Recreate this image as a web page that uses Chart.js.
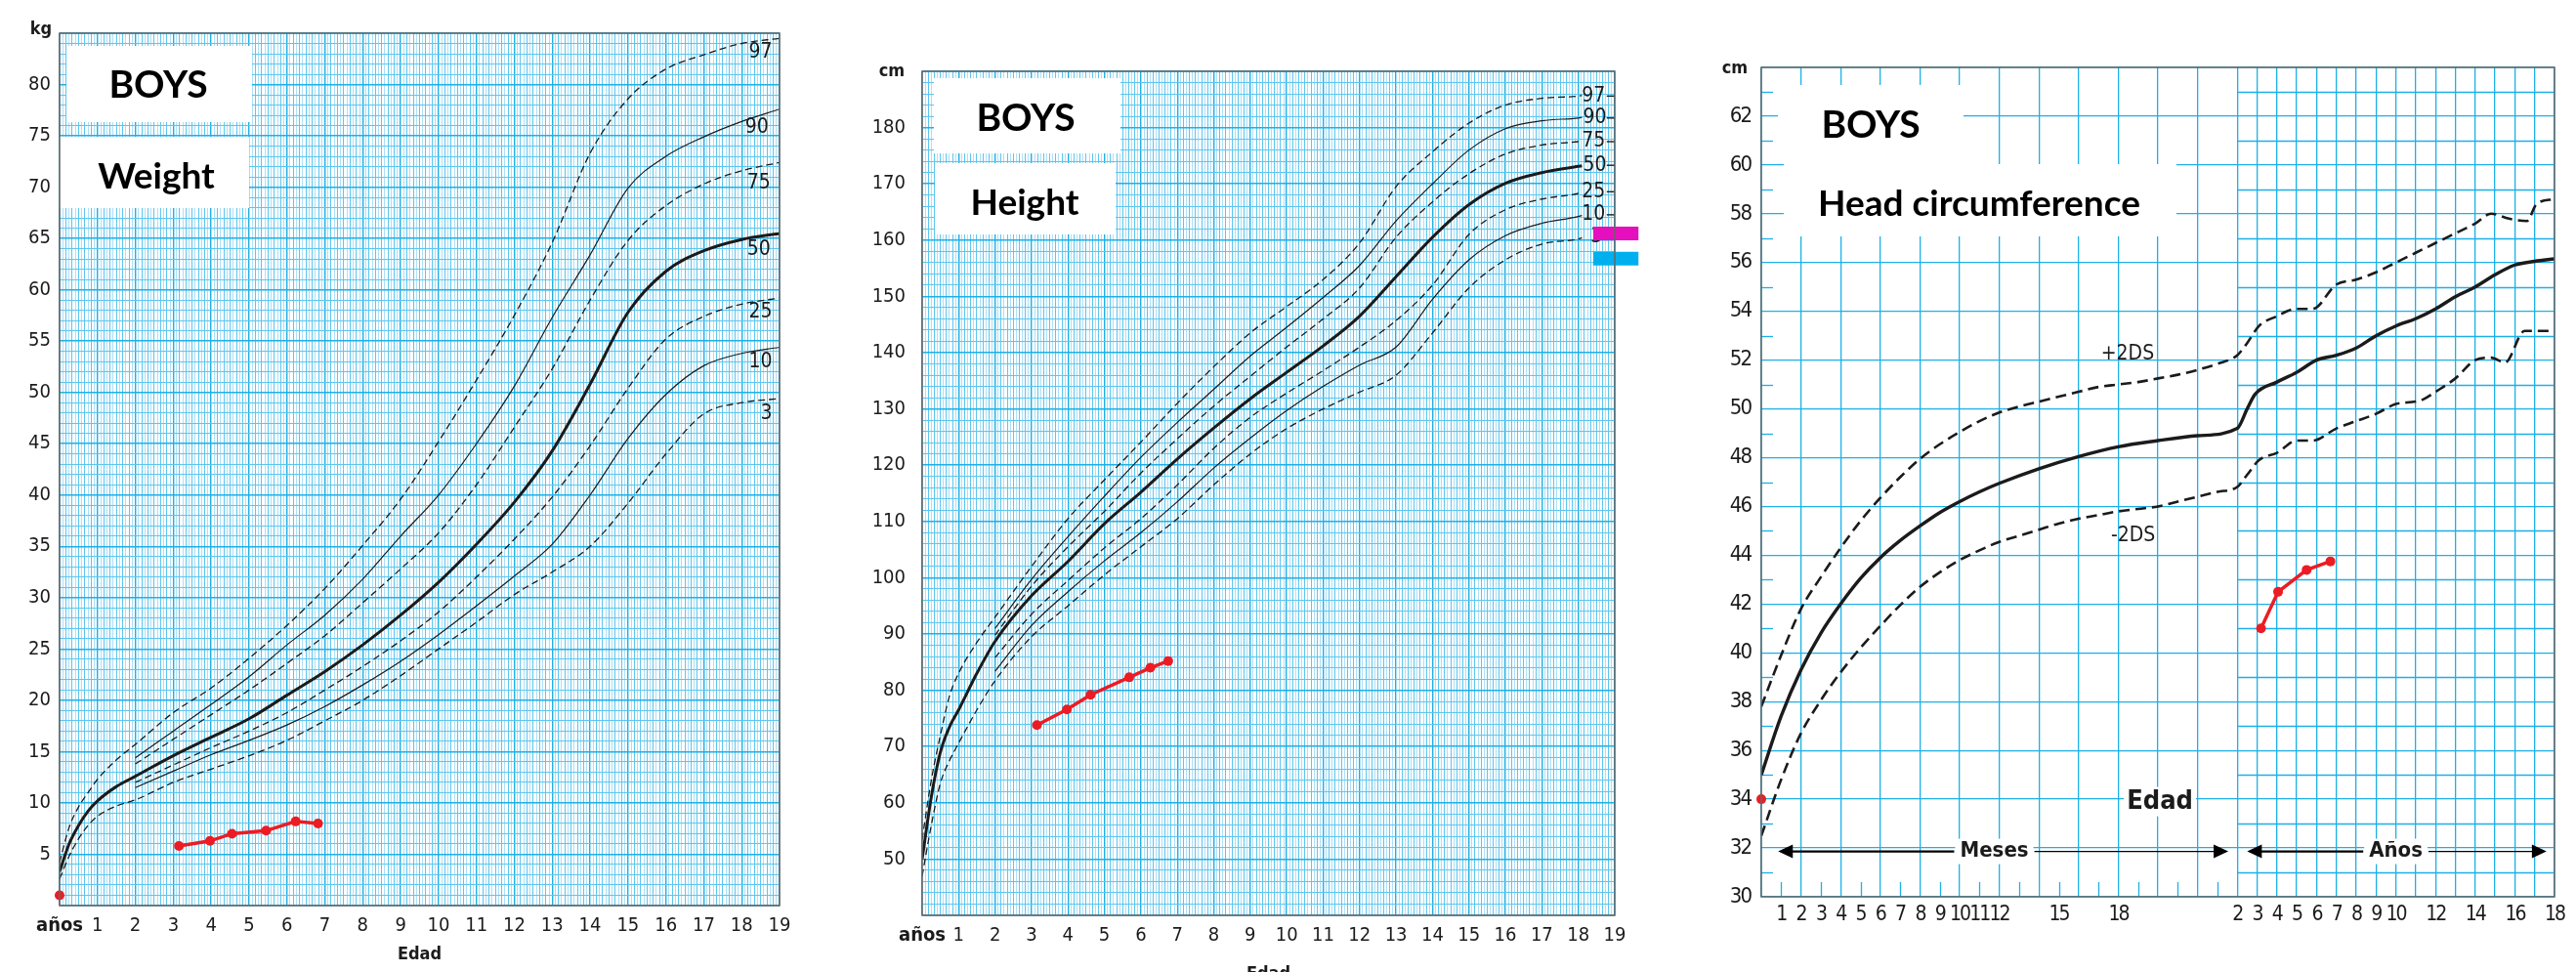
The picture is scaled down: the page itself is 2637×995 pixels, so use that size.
<!DOCTYPE html>
<html lang="es">
<head>
<meta charset="utf-8">
<title>Growth charts - boys</title>
<script src="https://cdn.jsdelivr.net/npm/chart.js@4.4.1/dist/chart.umd.min.js"></script>
<style>
  html, body { margin: 0; padding: 0; background: #fff; width: 2637px; height: 995px; overflow: hidden; }
  canvas { position: absolute; top: 0; }
</style>
</head>
<body>
<canvas id="weightChart" width="830" height="995" style="left:0"></canvas>
<canvas id="heightChart" width="830" height="1010" style="left:870px"></canvas>
<canvas id="headChart" width="917" height="995" style="left:1720px"></canvas>
<script>
(function () {
  "use strict";

  // ages in years (0-2 only 3 curves, the others start at 2)
  const ageFull = [0, 0.25, 0.5, 0.75, 1, 1.5, 2, 3, 4, 5, 6, 7, 8, 9, 10, 11, 12, 13, 14, 15, 16, 17, 18, 19];
  const ageChild = [2, 3, 4, 5, 6, 7, 8, 9, 10, 11, 12, 13, 14, 15, 16, 17, 18, 19];

  // weight percentiles (kg)
  const w97 = [4.2, 7.6, 9.6, 11.0, 12.3, 14.2, 15.7, 18.8, 21.2, 24.1, 27.3, 30.9, 35.1, 39.6, 45.2, 51.2, 57.5, 64.6, 73.3, 78.6, 81.5, 82.9, 84.0, 84.5];
  const w90 = [14.4, 17.0, 19.6, 22.3, 25.4, 28.3, 31.8, 36.0, 40.0, 45.0, 50.6, 57.3, 63.4, 69.9, 73.0, 74.9, 76.4, 77.6];
  const w75 = [13.8, 16.2, 18.6, 21.0, 23.6, 26.3, 29.5, 32.8, 36.3, 41.0, 46.6, 52.3, 59.0, 64.8, 68.2, 70.3, 71.6, 72.4];
  const w50 = [3.3, 6.0, 7.8, 9.2, 10.2, 11.6, 12.6, 14.6, 16.4, 18.2, 20.5, 22.8, 25.4, 28.3, 31.5, 35.2, 39.3, 44.3, 50.8, 57.8, 61.8, 63.8, 64.9, 65.5];
  const w25 = [12.0, 13.7, 15.4, 17.0, 18.8, 21.0, 23.3, 25.8, 28.6, 32.0, 35.7, 39.8, 44.8, 50.4, 55.2, 57.4, 58.6, 59.2];
  const w10 = [11.5, 13.1, 14.7, 16.1, 17.6, 19.4, 21.5, 23.8, 26.4, 29.2, 32.1, 35.2, 40.0, 45.5, 49.8, 52.6, 53.8, 54.4];
  const w3 = [2.6, 4.8, 6.5, 7.8, 8.7, 9.7, 10.3, 12.0, 13.3, 14.6, 16.1, 18.0, 20.0, 22.4, 25.0, 27.6, 30.3, 32.5, 35.0, 39.2, 44.0, 47.9, 49.0, 49.4];

  // patient weight
  const weightBirthAge = [0];
  const weightBirth = [1.0];
  const weightVisitAge = [3.15, 3.97, 4.55, 5.45, 6.23, 6.82];
  const weightVisit = [5.8, 6.3, 7.0, 7.3, 8.2, 8.0];

  // height percentiles (cm), curves stop where the labels start
  const hAgeFull = [0, 0.25, 0.5, 0.75, 1, 1.5, 2, 3, 4, 5, 6, 7, 8, 9, 10, 11, 12, 13, 14, 15, 16, 17, 18, 18.1];
  const hAgeChild = [2, 3, 4, 5, 6, 7, 8, 9, 10, 11, 12, 13, 14, 15, 16, 17, 18, 18.1];
  const h97 = [53.5, 64.0, 72.0, 79.0, 83.0, 88.5, 93.0, 102.0, 110.5, 117.4, 124.1, 131.0, 137.5, 143.5, 148.2, 153.0, 159.5, 169.5, 175.7, 180.8, 184.0, 185.2, 185.6, 185.7];
  const h90 = [91.0, 99.7, 107.3, 114.5, 121.4, 127.6, 133.5, 139.4, 144.5, 149.8, 155.5, 163.4, 170.0, 176.0, 179.8, 181.2, 181.7, 181.8];
  const h75 = [89.8, 98.5, 105.5, 111.8, 118.6, 124.7, 130.5, 135.8, 141.0, 146.0, 151.5, 160.5, 166.8, 171.8, 175.3, 176.9, 177.5, 177.6];
  const h50 = [50.0, 61.0, 69.0, 73.5, 76.5, 83.0, 88.7, 96.8, 102.9, 109.6, 115.2, 121.1, 126.6, 131.8, 136.5, 141.2, 146.5, 153.5, 160.5, 166.3, 170.1, 172.0, 173.1, 173.2];
  const h25 = [85.8, 93.5, 99.5, 105.3, 110.5, 116.5, 123.0, 128.5, 132.8, 136.8, 141.0, 145.7, 152.0, 161.0, 165.4, 167.3, 168.3, 168.5];
  const h10 = [83.4, 91.5, 97.5, 103.0, 108.0, 113.5, 119.5, 124.8, 129.7, 134.0, 137.8, 141.0, 149.5, 156.5, 160.8, 163.0, 164.2, 164.4];
  const h3 = [47.0, 56.0, 63.5, 67.5, 70.6, 76.5, 81.7, 89.5, 95.0, 100.5, 105.5, 110.5, 116.5, 122.0, 126.5, 130.0, 133.0, 136.0, 143.5, 151.5, 156.5, 159.3, 160.2, 160.4];

  // patient height + parents' target marks
  const heightVisitAge = [3.15, 3.97, 4.62, 5.68, 6.26, 6.75];
  const heightVisit = [73.8, 76.6, 79.2, 82.3, 84.0, 85.2];
  const targetSpan = [18.41, 19.65];
  const motherTarget = 161.2;
  const fatherTarget = 156.7;

  // head circumference (cm); axis value 0-24 = months, 24-40 = years 2-18
  const medAge = [0, 1, 2, 3, 4, 5, 6, 7, 8, 9, 10, 11, 12, 14, 16, 18, 20, 22, 24, 24.5, 24.9, 26, 27, 28, 29, 30, 31, 32, 33, 34, 35, 36, 37, 38, 39, 40];
  const headMedian = [35.0, 37.4, 39.3, 40.8, 42.0, 43.05, 43.9, 44.6, 45.2, 45.75, 46.2, 46.6, 46.95, 47.55, 48.05, 48.45, 48.7, 48.9, 49.2, 50.0, 50.6, 51.1, 51.5, 52.0, 52.2, 52.5, 53.0, 53.4, 53.7, 54.1, 54.6, 55.0, 55.5, 55.9, 56.05, 56.15];
  const upAge = [0, 1, 2, 3, 4, 5, 6, 7, 8, 9, 10, 11, 12, 13, 14, 15, 16, 17, 18, 19, 20, 21, 22, 23, 24, 24.5, 25.1, 26, 27, 27.8, 29, 30, 31, 32, 33, 34, 35, 36, 36.8, 37.7, 38.6, 39.1, 40];
  const headPlus2 = [37.8, 39.9, 41.8, 43.1, 44.3, 45.4, 46.35, 47.2, 47.95, 48.55, 49.05, 49.5, 49.85, 50.1, 50.3, 50.5, 50.7, 50.9, 51.0, 51.1, 51.25, 51.4, 51.6, 51.85, 52.2, 52.7, 53.4, 53.8, 54.1, 54.1, 55.1, 55.3, 55.6, 56.0, 56.4, 56.8, 57.2, 57.6, 58.0, 57.8, 57.7, 58.4, 58.6];
  const loAge = [0, 1, 2, 3, 4, 5, 6, 7, 8, 9, 10, 11, 12, 13, 14, 15, 16, 17, 18, 19, 20, 21, 22, 23, 24, 24.5, 25.1, 26, 27, 27.8, 29, 30, 31, 32, 33, 33.4, 34, 35, 36, 36.8, 37.5, 38.5, 40];
  const headMinus2 = [32.5, 34.8, 36.7, 38.05, 39.2, 40.2, 41.1, 41.95, 42.7, 43.3, 43.8, 44.2, 44.55, 44.8, 45.05, 45.3, 45.5, 45.65, 45.8, 45.9, 46.0, 46.2, 46.4, 46.6, 46.8, 47.3, 47.9, 48.2, 48.7, 48.7, 49.2, 49.5, 49.8, 50.2, 50.3, 50.4, 50.7, 51.25, 52.0, 52.1, 51.9, 53.2, 53.2];
  const headBirthAge = [0];
  const headBirth = [34.0];
  const headVisitAge = [25.2, 26.06, 27.5, 28.7];
  const headVisit = [41.0, 42.5, 43.4, 43.75];

  // head x tick labels
  const headTickPos = [1, 2, 3, 4, 5, 6, 7, 8, 9, 10, 11, 12, 15, 18, 24, 25, 26, 27, 28, 29, 30, 31, 32, 34, 36, 38, 40];
  const headTickText = ["1", "2", "3", "4", "5", "6", "7", "8", "9", "10", "11", "12", "15", "18", "2", "3", "4", "5", "6", "7", "8", "9", "10", "12", "14", "16", "18"];

  const BLUE = "#1eb0e6";
  const BLUE_MID = "#5cc6ee";
  const BLUE_LIGHT = "#aee0f6";
  const INK = "#1b1b1b";
  const RED = "#ec1c24";
  const TITLE = "Lato, 'Open Sans', sans-serif";
  const CLEAR = "rgba(0,0,0,0)";

  // narrow face for the printed numbers, first one that is really installed
  function pickFont(list) {
    const c = document.createElement("canvas").getContext("2d");
    const probe = "años 0123456789 Edad";
    c.font = "40px monospace";
    const base = c.measureText(probe).width;
    for (const f of list) {
      c.font = "40px '" + f + "', monospace";
      if (Math.abs(c.measureText(probe).width - base) > 0.5) return "'" + f + "', sans-serif";
    }
    return "sans-serif";
  }
  const NARROW = pickFont(["Liberation Sans Narrow", "DejaVu Sans Condensed", "Roboto"]);

  function range(a, b, step) {
    const out = [];
    for (let v = a; v <= b + 1e-9; v += step) out.push(Math.round(v * 1000) / 1000);
    return out;
  }
  const monthSteps = Array.from({ length: 19 * 12 + 1 }, (_, k) => k / 12);
  const isYear = v => Math.abs(v - Math.round(v)) < 1e-6;

  function setTicks(values) {
    return function (scale) { scale.ticks = values.map(v => ({ value: v })); };
  }
  function fixWidth(w) { return function (s) { s.width = w; }; }
  function fixHeight(h) { return function (s) { s.height = h; }; }
  function pts(xs, ys) { return ys.map((y, i) => ({ x: xs[i], y: y })); }

  const THIN = { borderWidth: 1.2 };
  const DASH = { borderWidth: 1.3, borderDash: [7, 4] };
  const BOLD = { borderWidth: 3 };

  function curve(xs, ys, style) {
    return Object.assign({
      data: pts(xs, ys), borderColor: INK, pointRadius: 0, fill: false,
      cubicInterpolationMode: "monotone"
    }, style);
  }
  function patient(xs, ys, line) {
    return {
      data: pts(xs, ys), borderColor: RED, backgroundColor: RED, borderWidth: 3.5,
      pointRadius: 5, pointBorderWidth: 0, showLine: line, clip: false, tension: 0
    };
  }
  function targetBar(value, color) {
    return {
      data: pts(targetSpan, [value, value]), borderColor: color, borderWidth: 14,
      borderCapStyle: "butt", pointRadius: 0, clip: false, tension: 0
    };
  }

  function baseOptions(extra) {
    return Object.assign({
      responsive: false, animation: false, events: [], devicePixelRatio: 1,
      plugins: { legend: { display: false }, tooltip: { enabled: false } }
    }, extra);
  }

  function monthColor(c) {
    if (!c.tick) return BLUE;
    const m = Math.round(c.tick.value * 12);
    return m % 12 === 0 ? BLUE : (m % 2 === 0 ? BLUE_MID : BLUE_LIGHT);
  }

  function yearAxis(axisHeight, titlePad) {
    return {
      type: "linear", min: 0, max: 19,
      afterBuildTicks: setTicks(monthSteps),
      afterFit: fixHeight(axisHeight),
      grid: { drawTicks: false, color: monthColor, lineWidth: c => (c.tick && isYear(c.tick.value) ? 1.4 : 1) },
      border: { display: false },
      ticks: {
        autoSkip: false, maxRotation: 0, padding: 9, color: INK,
        font: c => ({ family: NARROW, size: 20, weight: c.tick && c.tick.value === 0 ? "bold" : "normal" }),
        callback: v => (isYear(v) ? (Math.round(v) === 0 ? "años" : String(Math.round(v))) : "")
      },
      title: {
        display: true, text: "Edad", color: INK,
        font: { family: NARROW, size: 18, weight: "bold" },
        padding: { top: 0, bottom: titlePad }
      }
    };
  }

  // ---- drawing helpers for the printed-sheet decorations ----
  function whiteBox(ctx, x1, y1, x2, y2) {
    ctx.fillStyle = "#fff";
    ctx.fillRect(x1, y1, x2 - x1, y2 - y1);
  }
  function caption(ctx, s, cx, capMid, size) {
    ctx.font = "bold " + size + "px " + TITLE;
    ctx.fillStyle = "#000";
    ctx.textAlign = "center";
    ctx.textBaseline = "alphabetic";
    ctx.fillText(s, cx, capMid + size * 0.36);
  }
  function label(ctx, s, x, y, font, align) {
    ctx.font = font;
    ctx.fillStyle = INK;
    ctx.textAlign = align || "center";
    ctx.textBaseline = "middle";
    ctx.fillText(s, x, y);
  }
  function frame(chart) {
    const { ctx, chartArea: a } = chart;
    ctx.save();
    ctx.strokeStyle = "#666";
    ctx.lineWidth = 1.5;
    ctx.strokeRect(a.left, a.top, a.right - a.left, a.bottom - a.top);
    ctx.restore();
  }
  function seg(ctx, x1, y1, x2, y2) {
    ctx.beginPath(); ctx.moveTo(x1, y1); ctx.lineTo(x2, y2); ctx.stroke();
  }
  // the printed tick numbers are set tight
  function tightTicks(px) {
    return {
      id: "tightTicks",
      beforeDraw(chart) { chart.ctx.letterSpacing = px; },
      beforeDatasetsDraw(chart) { chart.ctx.letterSpacing = "0px"; }
    };
  }

  const WEIGHT_TAGS = [["97", 18.5, 83.1], ["90", 18.4, 75.8], ["75", 18.45, 70.4], ["50", 18.45, 63.9],
                       ["25", 18.5, 57.8], ["10", 18.5, 53.0], ["3", 18.65, 47.9]];
  const HEIGHT_TAGS = [["97", 18.42, 185.6], ["90", 18.45, 181.7], ["75", 18.42, 177.5], ["50", 18.45, 173.3],
                       ["25", 18.42, 168.6], ["10", 18.42, 164.5], ["3", 18.5, 160.5]];

  const weightOverlay = {
    id: "weightOverlay",
    beforeDatasetsDraw(chart) {
      const { ctx, scales: { x, y } } = chart;
      ctx.save();
      whiteBox(ctx, 68, 47, 258, 125);
      whiteBox(ctx, 61, 140, 255, 213);
      caption(ctx, "BOYS", 162, 86, 39);
      caption(ctx, "Weight", 160, 180, 37);
      WEIGHT_TAGS.forEach(t => label(ctx, t[0], x.getPixelForValue(t[1]), y.getPixelForValue(t[2]), "21px " + NARROW));
      label(ctx, "kg", 42, 30, "bold 18px " + NARROW);
      ctx.restore();
    },
    afterDatasetsDraw: frame
  };

  const heightOverlay = {
    id: "heightOverlay",
    beforeDatasetsDraw(chart) {
      const { ctx, scales: { x, y } } = chart;
      ctx.save();
      whiteBox(ctx, 86, 80, 277, 157);
      whiteBox(ctx, 87, 167, 272, 240);
      caption(ctx, "BOYS", 180, 120, 39);
      caption(ctx, "Height", 179, 207, 37);
      ctx.strokeStyle = INK;
      ctx.lineWidth = 1.4;
      HEIGHT_TAGS.forEach(t => {
        const py = y.getPixelForValue(t[2]);
        label(ctx, t[0], x.getPixelForValue(t[1]), py, "21px " + NARROW);
        seg(ctx, x.getPixelForValue(18.78), py, x.getPixelForValue(19), py);
      });
      label(ctx, "cm", 43, 73, "bold 18px " + NARROW);
      ctx.restore();
    },
    afterDatasetsDraw: frame
  };

  function arrow(ctx, x1, x2, y, text, tx) {
    ctx.font = "bold 22px " + NARROW;
    const w = ctx.measureText(text).width;
    ctx.fillStyle = "#fff";
    ctx.fillRect(tx - w / 2 - 5, y - 13, w + 10, 26);
    ctx.strokeStyle = "#000";
    ctx.lineWidth = 2.2;
    seg(ctx, x1 + 10, y, tx - w / 2 - 6, y);
    ctx.lineWidth = 1.2;
    seg(ctx, tx + w / 2 + 6, y, x2 - 10, y);
    ctx.fillStyle = "#000";
    ctx.beginPath(); ctx.moveTo(x1, y); ctx.lineTo(x1 + 15, y - 7); ctx.lineTo(x1 + 15, y + 7); ctx.closePath(); ctx.fill();
    ctx.beginPath(); ctx.moveTo(x2, y); ctx.lineTo(x2 - 15, y - 7); ctx.lineTo(x2 - 15, y + 7); ctx.closePath(); ctx.fill();
    label(ctx, text, tx, y, "bold 22px " + NARROW);
  }

  const headOverlay = {
    id: "headOverlay",
    beforeDatasetsDraw(chart) {
      const { ctx, chartArea: a, scales: { x, y } } = chart;
      ctx.save();
      // yearly part of the sheet has 1 cm lines, monthly part only short marks
      ctx.strokeStyle = BLUE;
      ctx.lineWidth = 1.3;
      for (let v = 31; v < 64; v += 2) {
        const py = Math.round(y.getPixelForValue(v)) + 0.5;
        seg(ctx, x.getPixelForValue(24), py, a.right, py);
        seg(ctx, a.left, py, a.left + 12, py);
      }
      for (let m = 1; m < 24; m += 2) {
        const px = Math.round(x.getPixelForValue(m)) + 0.5;
        seg(ctx, px, a.bottom, px, a.bottom - 15);
      }
      whiteBox(ctx, 100, 87, 290, 168);
      whiteBox(ctx, 106, 168, 508, 242);
      caption(ctx, "BOYS", 195, 127, 39);
      caption(ctx, "Head circumference", 306, 208, 37);
      label(ctx, "+2DS", x.getPixelForValue(18.47), y.getPixelForValue(52.25), "21px " + NARROW);
      label(ctx, "-2DS", x.getPixelForValue(18.75), y.getPixelForValue(44.8), "21px " + NARROW);
      ctx.font = "bold 27px " + NARROW;
      const ex = x.getPixelForValue(20.1), ey = y.getPixelForValue(33.9);
      const ew = ctx.measureText("Edad").width;
      whiteBox(ctx, ex - ew / 2 - 3, ey - 15, ex + ew / 2 + 3, ey + 15);
      label(ctx, "Edad", ex, ey, "bold 27px " + NARROW);
      const ay = y.getPixelForValue(31.86);
      arrow(ctx, x.getPixelForValue(0.85), x.getPixelForValue(23.55), ay, "Meses", x.getPixelForValue(11.75));
      arrow(ctx, x.getPixelForValue(24.5), x.getPixelForValue(39.6), ay, "Años", x.getPixelForValue(32));
      label(ctx, "cm", 56, 70, "bold 18px " + NARROW);
      ctx.restore();
    },
    afterDatasetsDraw: frame
  };

  // ---- weight ----
  new Chart(document.getElementById("weightChart"), {
    type: "line",
    data: {
      datasets: [
        patient(weightBirthAge, weightBirth, false),
        patient(weightVisitAge, weightVisit, true),
        curve(ageFull, w97, DASH),
        curve(ageChild, w90, THIN),
        curve(ageChild, w75, DASH),
        curve(ageFull, w50, BOLD),
        curve(ageChild, w25, DASH),
        curve(ageChild, w10, THIN),
        curve(ageFull, w3, DASH)
      ]
    },
    options: baseOptions({
      layout: { padding: { left: 0, right: 32, top: 34, bottom: 0 } },
      scales: {
        x: yearAxis(68, 7),
        y: {
          type: "linear", min: 0, max: 85,
          afterBuildTicks: setTicks(range(0, 85, 1)),
          afterFit: fixWidth(61),
          grid: { drawTicks: false, color: c => (c.tick && c.tick.value % 5 === 0 ? BLUE : BLUE_MID), lineWidth: c => (c.tick && c.tick.value % 5 === 0 ? 1.5 : 1) },
          border: { display: false },
          ticks: {
            autoSkip: false, padding: 9, color: INK, font: { family: NARROW, size: 20 },
            callback: v => (v % 5 === 0 && v > 0 && v < 85 ? String(v) : "")
          }
        }
      }
    }),
    plugins: [weightOverlay]
  });

  // ---- height ----
  new Chart(document.getElementById("heightChart"), {
    type: "line",
    data: {
      datasets: [
        patient(heightVisitAge, heightVisit, true),
        targetBar(motherTarget, "#e60fbd"),
        targetBar(fatherTarget, "#00b0ee"),
        curve(hAgeFull, h97, DASH),
        curve(hAgeChild, h90, THIN),
        curve(hAgeChild, h75, DASH),
        curve(hAgeFull, h50, BOLD),
        curve(hAgeChild, h25, DASH),
        curve(hAgeChild, h10, THIN),
        curve(hAgeFull, h3, DASH)
      ]
    },
    options: baseOptions({
      layout: { padding: { left: 0, right: 47, top: 73, bottom: 0 } },
      scales: {
        x: yearAxis(73, 2),
        y: {
          type: "linear", min: 40, max: 190,
          afterBuildTicks: setTicks(range(40, 190, 2)),
          afterFit: fixWidth(74),
          grid: { drawTicks: false, color: c => (c.tick && c.tick.value % 10 === 0 ? BLUE : BLUE_MID), lineWidth: c => (c.tick && c.tick.value % 10 === 0 ? 1.5 : 1) },
          border: { display: false },
          ticks: {
            autoSkip: false, padding: 17, color: INK, font: { family: NARROW, size: 20 },
            callback: v => (v % 10 === 0 && v >= 50 && v <= 180 ? String(v) : "")
          }
        }
      }
    }),
    plugins: [heightOverlay]
  });

  // ---- head circumference ----
  new Chart(document.getElementById("headChart"), {
    type: "line",
    data: {
      datasets: [
        patient(headBirthAge, headBirth, false),
        patient(headVisitAge, headVisit, true),
        curve(upAge, headPlus2, { borderWidth: 2.6, borderDash: [11, 6] }),
        curve(medAge, headMedian, { borderWidth: 3.4 }),
        curve(loAge, headMinus2, { borderWidth: 2.6, borderDash: [11, 6] })
      ]
    },
    options: baseOptions({
      layout: { padding: { left: 0, right: 22, top: 69, bottom: 0 } },
      scales: {
        x: {
          type: "linear", min: 0, max: 40,
          afterBuildTicks: setTicks(range(0, 40, 1)),
          afterFit: fixHeight(77),
          grid: { drawTicks: false, lineWidth: 1.3, color: c => (c.tick && c.tick.value < 24 && c.tick.value % 2 === 1 ? CLEAR : BLUE) },
          border: { display: false },
          ticks: {
            autoSkip: false, maxRotation: 0, padding: 6, color: INK, font: { family: NARROW, size: 21 },
            callback: v => { const i = headTickPos.indexOf(v); return i >= 0 ? headTickText[i] : ""; }
          }
        },
        y: {
          type: "linear", min: 30, max: 64,
          afterBuildTicks: setTicks(range(30, 64, 1)),
          afterFit: fixWidth(83),
          grid: { drawTicks: false, lineWidth: 1.3, color: c => (c.tick && c.tick.value % 2 === 1 ? CLEAR : BLUE) },
          border: { display: false },
          ticks: {
            autoSkip: false, padding: 11, color: INK, font: { family: NARROW, size: 22 },
            callback: v => (v % 2 === 0 && v <= 62 ? String(v) : "")
          }
        }
      }
    }),
    plugins: [tightTicks("-2px"), headOverlay]
  });
})();
</script>
</body>
</html>
